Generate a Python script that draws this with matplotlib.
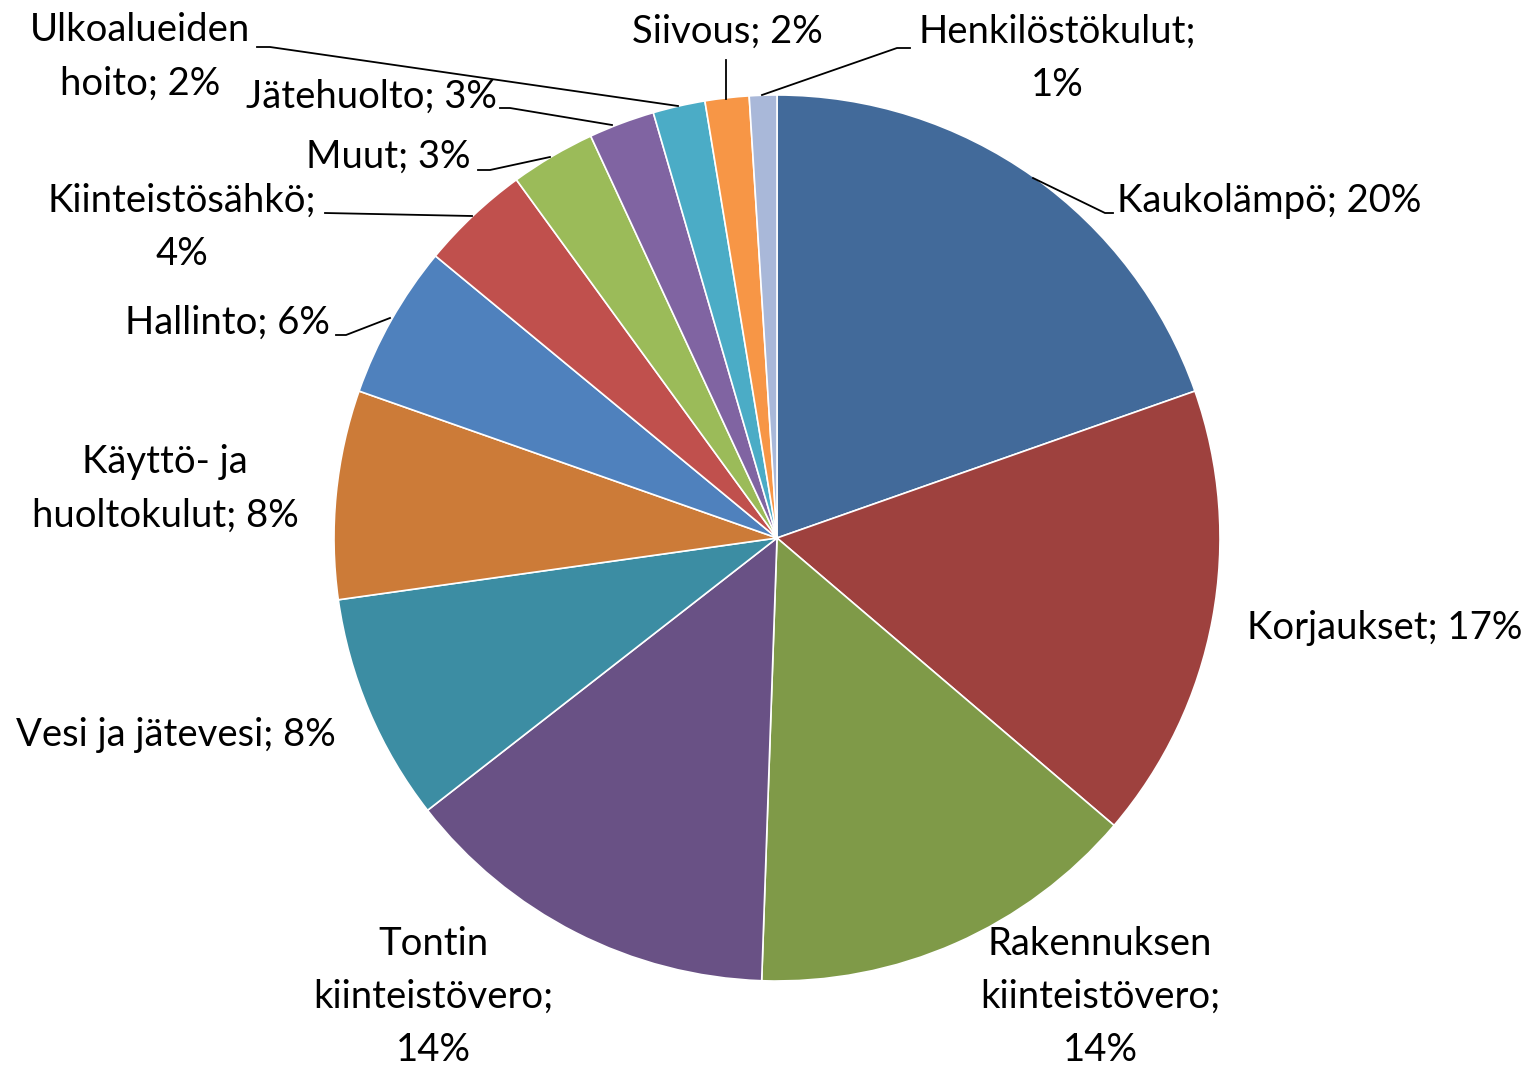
import matplotlib.pyplot as plt

# Kustannusjakauma (osuudet luettu kuvasta, %)
labels = ['Kaukolämpö; 20%', 'Korjaukset; 17%', 'Rakennuksen\nkiinteistövero;\n14%',
          'Tontin\nkiinteistövero;\n14%', 'Vesi ja jätevesi; 8%', 'Käyttö- ja\nhuoltokulut; 8%',
          'Hallinto; 6%', 'Kiinteistösähkö;\n4%', 'Muut; 3%', 'Jätehuolto; 3%',
          'Ulkoalueiden\nhoito; 2%', 'Siivous; 2%', 'Henkilöstökulut;\n1%']
values = [19.6, 16.6, 14.3, 13.9, 8.3, 7.6, 5.6, 4.0, 3.1, 2.4, 1.9, 1.6, 1.0]
colors = ['#426A9A', '#9E413E', '#7F9A48', '#695185', '#3C8DA3', '#CC7B38', '#4F81BD',
          '#C0504D', '#9BBB59', '#8064A2', '#4BACC6', '#F79646', '#A9B8D9']

W, H = 1528, 1067
fig = plt.figure(figsize=(W / 100, H / 100), dpi=100)
ax = fig.add_axes([0, 0, 1, 1])

def py(y):
    # kuvan pikselirivi -> akselin y
    return H - y

ax.pie(values, colors=colors, startangle=90, counterclock=False,
       center=(777, py(538)), radius=443,
       wedgeprops=dict(edgecolor='white', linewidth=1.2))
ax.set_xlim(0, W)
ax.set_ylim(0, H)
ax.set_aspect('equal')
ax.axis('off')

# tekstien paikat (x, y, tasaus) ja ohjausviivat pikseleinä
label_pos = [(1117, 201, 'left'), (1247, 628, 'left'), (1100, 997, 'center'),
             (433, 997, 'center'), (336, 735, 'right'), (165, 489, 'center'),
             (330, 323, 'right'), (182, 227, 'center'), (470, 157, 'right'),
             (497, 97, 'right'), (140, 57, 'center'), (727, 32, 'center'),
             (1057, 58, 'center')]
leaders = {
    0: [(1033, 178), (1105, 213), (1113, 213)],
    6: [(336, 335), (346, 335), (390, 318)],
    7: [(325, 213), (472, 216)],
    8: [(478, 170), (490, 170), (550, 157)],
    9: [(500, 108), (510, 108), (612, 125)],
    10: [(257, 47), (270, 47), (678, 106)],
    11: [(726, 60), (726, 99)],
    12: [(910, 48), (897, 48), (762, 95)],
}

for i, (lab, (x, y, ha)) in enumerate(zip(labels, label_pos)):
    ax.text(x, py(y), lab, ha=ha, va='center', multialignment='center',
            fontsize=27.5, family='Lato', linespacing=1.6, color='black')

for pts in leaders.values():
    ax.plot([p[0] for p in pts], [py(p[1]) for p in pts], color='black', lw=1.3)

plt.savefig('out.png', dpi=100)
